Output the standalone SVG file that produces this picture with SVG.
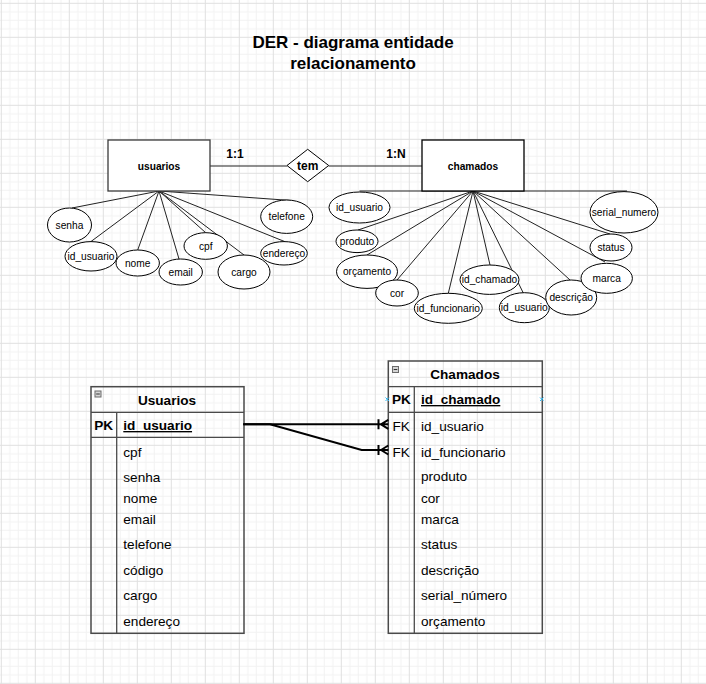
<svg xmlns="http://www.w3.org/2000/svg" width="706" height="684" viewBox="0 0 706 684">
<defs>
<pattern id="grid" x="0.8" y="2.8" width="34" height="34" patternUnits="userSpaceOnUse">
<path d="M9 0V34M17.5 0V34M26 0V34M0 9H34M0 17.5H34M0 26H34" stroke="#f2f2f2" stroke-width="1" fill="none"/>
<path d="M0.5 0V34M0 0.5H34" stroke="#e0e0e0" stroke-width="1" fill="none"/>
</pattern>
<style>
text{font-family:"Liberation Sans",Arial,sans-serif;fill:#000}
.title{font-size:17px;font-weight:bold;text-anchor:middle}
.ent{fill:#fff;stroke:#000;stroke-width:1.3}
.entt{font-size:10.2px;font-weight:bold;text-anchor:middle}
.att{fill:#fff;stroke:#000;stroke-width:1}
.attt{font-size:10.2px;text-anchor:middle}
.rel{font-size:12px;font-weight:bold;text-anchor:middle}
.ln{stroke:#222;stroke-width:1;fill:none}
.tbl{fill:none;stroke:#4a4a4a;stroke-width:1.5}
.tdiv{stroke:#4a4a4a;stroke-width:1.3}
.th{font-size:13.6px;font-weight:bold;text-anchor:middle}
.pk{font-size:13.6px;font-weight:bold}
.pkn{font-size:13.6px;font-weight:bold;text-decoration:underline}
.row{font-size:13.6px}
.mini{fill:#d4d4d4;stroke:#6a6a6a;stroke-width:1}
.conn{stroke:#000;stroke-width:2;fill:none}
.mark{stroke:#29b6f2;stroke-width:1;fill:none}
</style>
</defs>
<rect x="0" y="0" width="706" height="684" fill="#fff"/>
<rect x="0" y="0" width="706" height="684" fill="url(#grid)"/>

<g id="title">
<text class="title" x="353" y="47.5">DER - diagrama entidade</text>
<text class="title" x="353" y="68.5">relacionamento</text>
</g>

<g id="er-connectors">
<line class="ln" x1="210" y1="166" x2="287" y2="166"/>
<line class="ln" x1="328.7" y1="166" x2="422" y2="166"/>
<path class="ln" d="M159 191L72 208M159 191L91 241.5M159 191L137.7 250M159 191L179 259M159 191L205.7 232.7M159 191L244 255M159 191L285 241.7M159 191L291 200.5"/>
<path class="ln" d="M473 191H359.5M473 191L358 230M473 191L367 255M473 191L397 280M473 191L448.3 293.3M473 191L490 265M473 191L523.3 293M473 191L570 280M473 191L605 262M473 191L610 234M473 191H627"/>
</g>

<g id="usuarios-entity">
<rect class="ent" x="108" y="140" width="102" height="51" stroke-width="1.7" style="stroke:#3a3a3a"/>
<text class="entt" x="159" y="169.5">usuarios</text>
</g>
<g id="chamados-entity">
<rect class="ent" x="422" y="140" width="102" height="51"/>
<text class="entt" x="473" y="169.5">chamados</text>
</g>
<g id="tem-relation">
<polygon class="att" points="287,165.5 307.7,149.3 328.7,165.5 307.7,181.7"/>
<text class="rel" x="307.7" y="170">tem</text>
</g>
<g id="card-1-1"><text class="rel" x="235" y="157.5">1:1</text></g>
<g id="card-1-n"><text class="rel" x="396" y="157.5">1:N</text></g>

<g id="attr-senha"><ellipse class="att" cx="69.5" cy="225" rx="22" ry="17"/><text class="attt" x="69.5" y="228.5">senha</text></g>
<g id="attr-id_usuario-u"><ellipse class="att" cx="91" cy="256.3" rx="26" ry="14.7"/><text class="attt" x="91" y="259.8">id_usuario</text></g>
<g id="attr-nome"><ellipse class="att" cx="137.7" cy="263" rx="21.7" ry="13"/><text class="attt" x="137.7" y="266.5">nome</text></g>
<g id="attr-email"><ellipse class="att" cx="180.7" cy="272" rx="21.7" ry="13"/><text class="attt" x="180.7" y="275.5">email</text></g>
<g id="attr-cpf"><ellipse class="att" cx="205.7" cy="246" rx="21.7" ry="13.3"/><text class="attt" x="205.7" y="249.5">cpf</text></g>
<g id="attr-cargo"><ellipse class="att" cx="244" cy="272" rx="26" ry="17"/><text class="attt" x="244" y="275.5">cargo</text></g>
<g id="attr-endereco"><ellipse class="att" cx="284" cy="253.3" rx="23.3" ry="11.7"/><text class="attt" x="284" y="256.8">endereço</text></g>
<g id="attr-telefone"><ellipse class="att" cx="286.7" cy="216.7" rx="26" ry="16.7"/><text class="attt" x="286.7" y="220.2">telefone</text></g>

<g id="attr-id_usuario-c"><ellipse class="att" cx="359.5" cy="207.5" rx="30.5" ry="15.5"/><text class="attt" x="359.5" y="211">id_usuario</text></g>
<g id="attr-produto"><ellipse class="att" cx="357" cy="241.3" rx="21" ry="11.3"/><text class="attt" x="357" y="244.8">produto</text></g>
<g id="attr-orcamento"><ellipse class="att" cx="367" cy="271.7" rx="30.5" ry="16.7"/><text class="attt" x="367" y="275.2">orçamento</text></g>
<g id="attr-cor"><ellipse class="att" cx="397" cy="293" rx="21.3" ry="13"/><text class="attt" x="397" y="296.5">cor</text></g>
<g id="attr-id_funcionario"><ellipse class="att" cx="448.3" cy="308.3" rx="34" ry="15"/><text class="attt" x="448.3" y="311.8">id_funcionario</text></g>
<g id="attr-id_chamado"><ellipse class="att" cx="489.5" cy="279.7" rx="29.5" ry="14.7"/><text class="attt" x="489.5" y="283.2">id_chamado</text></g>
<g id="attr-id_usuario-c2"><ellipse class="att" cx="524.3" cy="307.7" rx="25" ry="15"/><text class="attt" x="524.3" y="311.2">id_usuario</text></g>
<g id="attr-descricao"><ellipse class="att" cx="571.2" cy="297.5" rx="25.5" ry="17.5"/><text class="attt" x="571.2" y="301">descrição</text></g>
<g id="attr-marca"><ellipse class="att" cx="606.7" cy="278.3" rx="25.7" ry="15"/><text class="attt" x="606.7" y="281.8">marca</text></g>
<g id="attr-status"><ellipse class="att" cx="611" cy="247.5" rx="21" ry="13.5"/><text class="attt" x="611" y="251">status</text></g>
<g id="attr-serial_numero"><ellipse class="att" cx="624" cy="212.3" rx="34" ry="20.7"/><text class="attt" x="624" y="215.8">serial_numero</text></g>

<g id="table-usuarios">
<rect class="tbl" x="91" y="386.7" width="153" height="246.6"/>
<line class="tdiv" x1="91" y1="412.3" x2="244" y2="412.3"/>
<line class="tdiv" x1="91" y1="437.3" x2="244" y2="437.3"/>
<line class="tdiv" x1="116.7" y1="412.3" x2="116.7" y2="633.3"/>
<rect class="mini" x="95" y="391" width="6" height="6"/><line x1="96.2" y1="394" x2="99.8" y2="394" stroke="#333" stroke-width="1"/>
<text class="th" x="167" y="405">Usuarios</text>
<text class="pk" x="94.3" y="430">PK</text>
<text class="pkn" x="123.3" y="430">id_usuario</text>
<text class="row" x="123.3" y="456.5">cpf</text>
<text class="row" x="123.3" y="481.5">senha</text>
<text class="row" x="123.3" y="503">nome</text>
<text class="row" x="123.3" y="524">email</text>
<text class="row" x="123.3" y="549">telefone</text>
<text class="row" x="123.3" y="575">código</text>
<text class="row" x="123.3" y="600">cargo</text>
<text class="row" x="123.3" y="625.5">endereço</text>
</g>

<g id="table-chamados">
<rect class="tbl" x="388.3" y="361" width="154" height="272.3"/>
<line class="tdiv" x1="388.3" y1="386.7" x2="542.3" y2="386.7"/>
<line class="tdiv" x1="388.3" y1="412.3" x2="542.3" y2="412.3"/>
<line class="tdiv" x1="414.3" y1="386.7" x2="414.3" y2="633.3"/>
<rect class="mini" x="392.5" y="366.5" width="6" height="6"/><line x1="393.7" y1="369.5" x2="397.3" y2="369.5" stroke="#333" stroke-width="1"/>
<text class="th" x="465" y="379">Chamados</text>
<text class="pk" x="392" y="404">PK</text>
<text class="pkn" x="421" y="404">id_chamado</text>
<text class="row" x="392.5" y="430.5">FK</text>
<text class="row" x="421" y="430.5">id_usuario</text>
<text class="row" x="392.5" y="456.5">FK</text>
<text class="row" x="421" y="456.5">id_funcionario</text>
<text class="row" x="421" y="480.5">produto</text>
<text class="row" x="421" y="503">cor</text>
<text class="row" x="421" y="524">marca</text>
<text class="row" x="421" y="549">status</text>
<text class="row" x="421" y="575">descrição</text>
<text class="row" x="421" y="600">serial_número</text>
<text class="row" x="421" y="626">orçamento</text>
<path class="mark" d="M385.5 397.5l3.5 3.5M389 397.5l-3.5 3.5M540 397.5l3.5 3.5M543.5 397.5l-3.5 3.5"/>
</g>

<g id="table-connectors">
<path class="conn" d="M243.3 424.3H388.3M378.5 419.3V429.3M381 424.3L388.3 419.8M381 424.3L388.3 428.8"/>
<path class="conn" d="M243.3 424.3H270L361.7 450H388.3M378.5 445V455M381 450L388.3 445.5M381 450L388.3 454.5"/>
</g>
</svg>
